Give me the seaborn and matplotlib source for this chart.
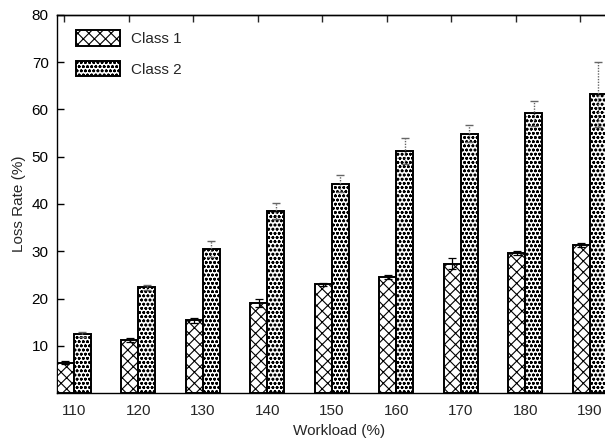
import numpy as np
import pandas as pd
import matplotlib
matplotlib.use("Agg")
import matplotlib.pyplot as plt
import seaborn as sns

workloads = ["110", "120", "130", "140", "150", "160", "170", "180", "190"]
class1 = [6.4, 11.2, 15.4, 19.1, 23.0, 24.6, 27.4, 29.7, 31.4]
class1_err = [0.3, 0.5, 0.5, 0.8, 0.3, 0.4, 1.2, 0.4, 0.4]
class2 = [12.4, 22.4, 30.4, 38.6, 44.3, 51.2, 54.9, 59.2, 63.2]
class2_err = [0.5, 0.5, 1.7, 1.7, 1.8, 2.7, 1.8, 2.7, 6.9]
series = ["Class 1", "Class 2"]
yticks = [10, 20, 30, 40, 50, 60, 70, 80]

sns.set_style("white")
plt.rcParams["font.family"] = ["Liberation Sans", "DejaVu Sans"]
plt.rcParams["hatch.color"] = "black"
plt.rcParams["hatch.linewidth"] = 0.8

df = pd.DataFrame({
    "Workload": workloads * 2,
    "Loss": class1 + class2,
    "Class": [series[0]] * len(workloads) + [series[1]] * len(workloads),
})

W, H = 605, 446
fig = plt.figure(figsize=(W / 100, H / 100), dpi=100)
ax = fig.add_axes([57 / W, (H - 393) / H, 565 / W, 378 / H])

sns.barplot(data=df, x="Workload", y="Loss", hue="Class", order=workloads,
            hue_order=series, palette=["white", "white"], edgecolor="black",
            linewidth=1.4, width=0.52, errorbar=None, ax=ax, zorder=3,
            legend=False)

hatches = {series[0]: "xxx", series[1]: "oooo"}
for cont, name in zip(ax.containers, series):
    for p in cont:
        p.set_hatch(hatches[name])

# error bars behind bars (lower half hidden)
c1x = [p.get_x() + p.get_width() / 2 for p in ax.containers[0]]
c2x = [p.get_x() + p.get_width() / 2 for p in ax.containers[1]]
ax.errorbar(c1x, class1, yerr=class1_err, fmt="none", ecolor="black",
            elinewidth=0.9, capsize=3, capthick=0.9, zorder=4)
eb = ax.errorbar(c2x, class2, yerr=class2_err, fmt="none", ecolor="#666666",
                 elinewidth=1.0, capsize=3, capthick=1.0, zorder=4)
for lc in eb[2]:
    lc.set_linestyle((0, (1, 1)))

ax.set_xlim(-0.26, 8.5)
ax.set_ylim(0, 80)
ax.set_yticks(yticks)
ax.set_yticklabels([str(t) for t in yticks])
ax.tick_params(axis="y", direction="in", length=5, width=1, left=True,
               labelsize=11, pad=6, colors="black")
ax.tick_params(axis="x", length=0, labelsize=11, pad=8)
for s in ["left", "bottom", "top", "right"]:
    ax.spines[s].set_color("black")
    ax.spines[s].set_linewidth(1.0)

sec = ax.secondary_xaxis("top")
sec.set_xticks([i - 0.15 for i in range(len(workloads))])
sec.set_xticklabels([])
sec.tick_params(direction="in", length=5, width=1)
sec.spines["top"].set_linewidth(1.0)

ax.set_xlabel("Workload (%)", fontsize=11, labelpad=4)
ax.set_ylabel("Loss Rate (%)", fontsize=11, labelpad=4)

handles = [ax.containers[0][0], ax.containers[1][0]]
leg = ax.legend(handles=handles, labels=series, loc="upper left",
                bbox_to_anchor=(0.006, 1.0), frameon=False,
                fontsize=11, handlelength=2.9, handleheight=1.2,
                labelspacing=0.95, handletextpad=0.7, borderaxespad=0.6)

fig.savefig("out.png", dpi=100)
